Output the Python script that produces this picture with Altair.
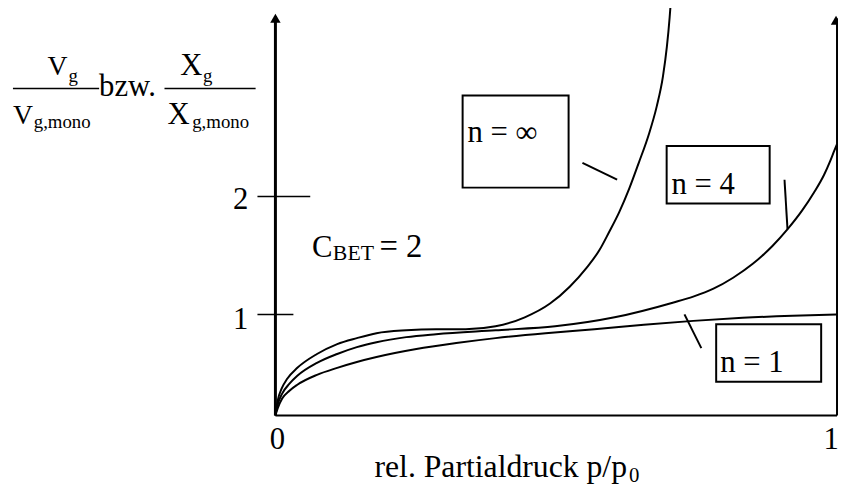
import altair as alt
import pandas as pd

# --- curves (p/p0, V/Vmono) ---
inf_x = [0, 0.004, 0.011, 0.021, 0.039, 0.074, 0.110, 0.145, 0.180, 0.233, 0.286, 0.339, 0.392,
         0.444, 0.489, 0.524, 0.554, 0.577, 0.594, 0.612, 0.630, 0.647, 0.665, 0.679, 0.690, 0.697,
         0.702, 0.704]
inf_y = [0, 0.147, 0.265, 0.363, 0.471, 0.608, 0.706, 0.765, 0.814, 0.843, 0.853, 0.853, 0.882,
         0.971, 1.092, 1.235, 1.395, 1.546, 1.697, 1.866, 2.067, 2.286, 2.529, 2.765, 3.017, 3.269,
         3.521, 3.647]

n4_x = [0, 0.004, 0.012, 0.025, 0.039, 0.074, 0.110, 0.145, 0.180, 0.233, 0.286, 0.392, 0.498,
        0.604, 0.709, 0.744, 0.780, 0.815, 0.850, 0.885, 0.912, 0.938, 0.959, 0.977, 0.988, 0.995, 1.0]
n4_y = [0, 0.108, 0.216, 0.314, 0.392, 0.520, 0.608, 0.676, 0.725, 0.775, 0.804, 0.843, 0.882,
        0.971, 1.101, 1.151, 1.218, 1.311, 1.429, 1.580, 1.723, 1.882, 2.034, 2.185, 2.303, 2.387, 2.445]

n1_x = [0, 0.004, 0.012, 0.025, 0.039, 0.074, 0.110, 0.145, 0.180, 0.251, 0.322, 0.392, 0.481,
        0.568, 0.656, 0.744, 0.832, 0.921, 1.0]
n1_y = [0, 0.069, 0.167, 0.245, 0.304, 0.402, 0.471, 0.529, 0.578, 0.657, 0.716, 0.765, 0.814,
        0.853, 0.897, 0.936, 0.966, 0.987, 1.0]

tick_values = [1, 2]
tick_labels = ["1", "2"]

curves = pd.concat([
    pd.DataFrame({"p": inf_x, "v": inf_y, "n": "inf"}),
    pd.DataFrame({"p": n4_x, "v": n4_y, "n": "4"}),
    pd.DataFrame({"p": n1_x, "v": n1_y, "n": "1"}),
], ignore_index=True)

one = pd.DataFrame({"k": [0]})
FONT = "'Liberation Serif', 'Times New Roman', Times, serif"

XS = alt.Scale(domain=[0, 1], range=[270, 837])
YS = alt.Scale(domain=[0, 1, 2, 4], range=[409, 307, 188, -50])

lines = alt.Chart(curves).mark_line(color="black", strokeWidth=2, interpolate="monotone", clip=False).encode(
    x=alt.X("p:Q", scale=XS, axis=None),
    y=alt.Y("v:Q", scale=YS, axis=None),
    detail="n:N",
)

# axis lines in data units: y axis, x axis, right line at p/p0 = 1, y ticks
axes_df = pd.DataFrame({
    "x": [0, 0, 1, -0.032, -0.032],
    "x2": [0, 1, 1, 0.062, 0.032],
    "y": [0, 0, 0, tick_values[1], tick_values[0]],
    "y2": [3.53, 0, 3.51, tick_values[1], tick_values[0]],
    "w": [3, 2, 2, 1.5, 1.5],
})
axes = alt.Chart(axes_df).mark_rule(color="black").encode(
    x=alt.X("x:Q", scale=XS, axis=None), x2="x2:Q",
    y=alt.Y("y:Q", scale=YS, axis=None), y2="y2:Q",
    strokeWidth=alt.StrokeWidth("w:Q", scale=None, legend=None),
)


def rule(x, x2, y, y2, w=2):
    return alt.Chart(one).mark_rule(color="black", strokeWidth=w).encode(
        x=alt.value(x), x2=alt.value(x2), y=alt.value(y), y2=alt.value(y2))


def text(s, x, y, size=31, align="left"):
    return alt.Chart(one).mark_text(font=FONT, fontSize=size, align=align, baseline="alphabetic",
                                    color="black").encode(x=alt.value(x), y=alt.value(y), text=alt.value(s))


def box(x, x2, y, y2):
    return alt.Chart(one).mark_rect(fill="white", stroke="black", strokeWidth=2).encode(
        x=alt.value(x), x2=alt.value(x2), y=alt.value(y), y2=alt.value(y2))


def arrow(x, y):
    return alt.Chart(one).mark_point(shape="triangle-up", filled=True, size=110, color="black",
                                     opacity=1).encode(x=alt.value(x), y=alt.value(y))


layers = [
    axes,
    arrow(270, 8),
    arrow(836, 10),
    text(tick_labels[1], 235, 201, align="center"),
    text(tick_labels[0], 235, 322, align="center"),
    # x tick labels and title
    text("0", 272, 443, align="center"),
    text("1", 831, 443, align="center"),
    text("rel. Partialdruck p/p", 370, 471, size=32),
    text("0", 627, 476, size=21),
    # y label
    text("V", 40, 65, size=28), text("g", 61, 72, size=19),
    rule(5, 92, 79, 79, 1.5),
    text("V", 5, 115, size=28), text("g,mono", 26, 119, size=19),
    text("bzw.", 92, 87, size=31),
    text("X", 174, 65, size=31), text("g", 197, 72, size=19),
    rule(158, 250, 79, 79, 1.5),
    text("X", 161, 115, size=31), text("g,mono", 186, 119, size=19),
    # C_BET
    text("C", 307, 249, size=31), text("BET", 328, 252, size=22), text("= 2", 375, 249, size=33),
    # boxes and leaders
    box(459, 566, 86, 179), text("n = ∞", 464, 133),
    rule(580, 615, 154, 171, 2),
    box(665, 769, 137, 195), text("n = 4", 670, 185),
    rule(784, 787, 171, 221, 2),
    box(715, 821, 317, 375), text("n = 1", 719, 365),
    rule(683, 700, 307, 341, 2),
    lines,
]

chart = alt.layer(*layers).properties(
    width=838, height=488, autosize="none", padding=0, background="white"
).configure_view(stroke=None)

chart.save("out.html", embed_options={"renderer": "svg", "actions": False})
